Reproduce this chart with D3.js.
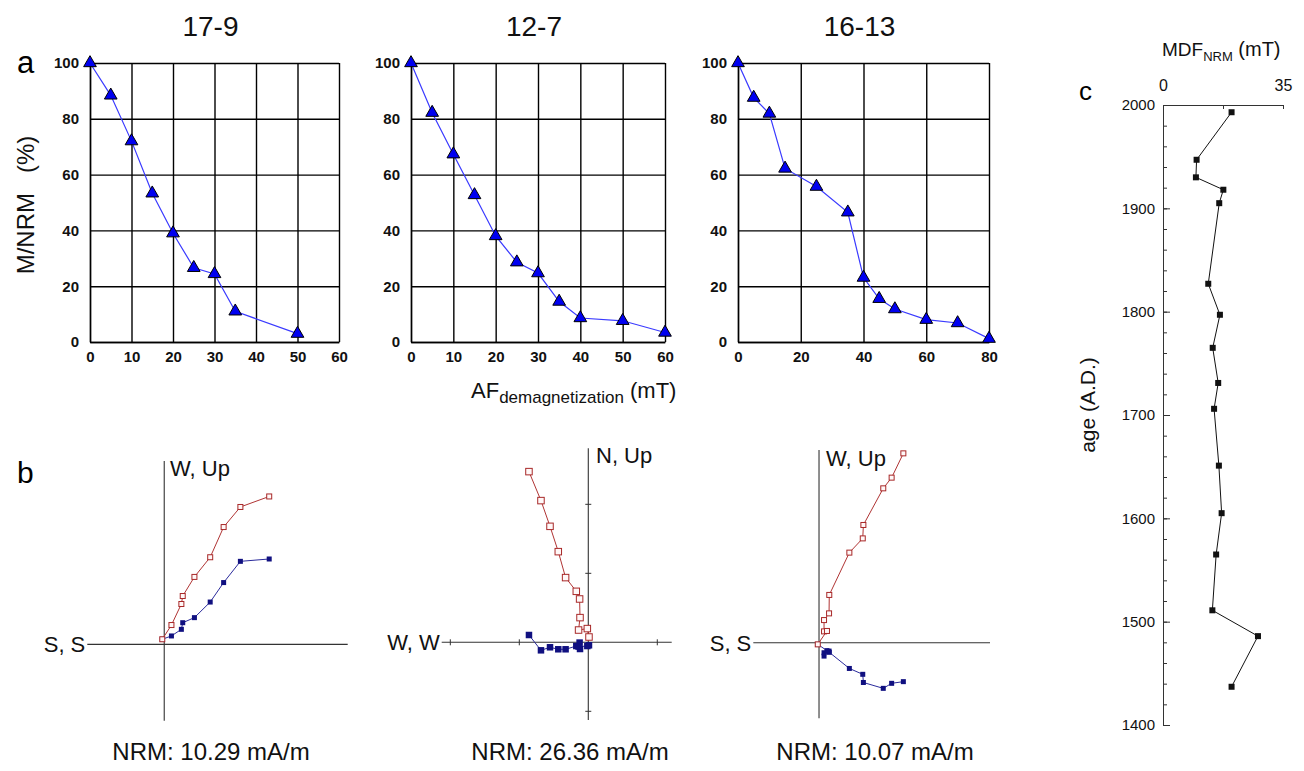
<!DOCTYPE html>
<html>
<head>
<meta charset="utf-8">
<script src="https://cdn.jsdelivr.net/npm/d3@7"></script>
<style>
  body { margin: 0; background: #fff; }
  svg { display: block; font-family: 'Liberation Sans', Arial, sans-serif; }
</style>
</head>
<body>
<svg id="chart" width="1304" height="771"></svg>
<script>
// ---- data ----
const sampleNames = ['17-9', '12-7', '16-13'];

// a: AF demagnetization step (mT) vs remaining M/NRM (%)
const af179 = [0, 5, 10, 15, 20, 25, 30, 35, 50];
const mnrm179 = [100, 88.4, 72, 53.3, 39, 26.6, 24.4, 11, 3];
const af127 = [0, 5, 10, 15, 20, 25, 30, 35, 40, 50, 60];
const mnrm127 = [100, 82.2, 67.3, 52.7, 38, 28.6, 24.7, 14.5, 8.6, 7.6, 3.4];
const af1613 = [0, 5, 10, 15, 25, 35, 40, 45, 50, 60, 70, 80];
const mnrm1613 = [100, 87.6, 81.9, 62.2, 55.7, 46.5, 23.1, 15.5, 11.8, 8, 6.8, 1.2];
const afTicks179 = [0, 10, 20, 30, 40, 50, 60];
const afTicks127 = [0, 10, 20, 30, 40, 50, 60];
const afTicks1613 = [0, 20, 40, 60, 80];
const mnrmTicks = [0, 20, 40, 60, 80, 100];

// b: orthogonal vector plots (mA/m), from NRM to last step
const zN179 = [5.39, 3.91, 3.05, 2.36, 1.55, 0.95, 0.88, 0.37, -0.10];
const zUp179 = [7.59, 7.05, 6.02, 4.47, 3.46, 2.48, 2.07, 0.99, 0.26];
const zW179 = [4.38, 4.26, 3.17, 2.17, 1.37, 1.11, 0.77, 0.43, 0.26];

const zE127 = [-8.60, -6.86, -5.55, -4.35, -3.29, -1.74, -1.26, -1.20, -1.41, -0.14, 0.10];
const zUp127 = [24.74, 20.54, 16.81, 13.14, 9.38, 7.39, 6.28, 3.58, 1.78, 1.99, 0.77];
const zN127 = [1.06, -1.16, -0.72, -1.01, -1.01, -0.54, -0.04, -0.97, -0.62, -0.54, -0.43];
const zTicks127 = [-20, -10, 10, 20];

const zN1613 = [4.03, 3.47, 3.07, 2.12, 2.09, 1.45, 0.49, 0.48, 0.24, 0.24, 0.38, -0.06];
const zUp1613 = [9.04, 7.88, 7.37, 5.62, 4.98, 4.30, 2.28, 1.40, 1.08, 0.54, 0.56, -0.08];
const zW1613 = [-1.86, -1.94, -2.18, -1.90, -1.51, -1.23, -0.46, -0.40, -0.64, -0.48, -0.38, -0.08];

const nrmLabels = ['NRM: 10.29 mA/m', 'NRM: 26.36 mA/m', 'NRM: 10.07 mA/m'];
const upLabels = ['W, Up', 'N, Up', 'W, Up'];
const leftLabels = ['S, S', 'W, W', 'S, S'];

// c: MDF of NRM (mT) vs age (A.D.)
const mdfValues = [20.0, 9.8, 9.6, 17.6, 16.4, 13.2, 16.6, 14.5, 16.1, 14.9, 16.3, 17.1, 15.5, 14.4, 27.7, 20.0];
const ageValues = [1993, 1947, 1930, 1918, 1905, 1827, 1797, 1765, 1731, 1706, 1651, 1605, 1565, 1511, 1486, 1437];
const ageTicks = [1400, 1500, 1600, 1700, 1800, 1900, 2000];
const mdfTicks = [0, 17.5, 35];

const svg = d3.select('#chart');

// ---- a: demagnetization curves ----
const demagPanels = [
  { af: af179, m: mnrm179, ticks: afTicks179, x0: 90, x1: 339 },
  { af: af127, m: mnrm127, ticks: afTicks127, x0: 411, x1: 665 },
  { af: af1613, m: mnrm1613, ticks: afTicks1613, x0: 738, x1: 989 }
];
const aTop = 63, aBottom = 342;

demagPanels.forEach((p, i) => {
  const x = d3.scaleLinear()
    .domain(d3.extent(p.ticks))
    .range([p.x0, p.x1]);
  const y = d3.scaleLinear()
    .domain([0, 100])
    .range([aBottom, aTop]);

  const g = svg.append('g');

  // Grid via axes.
  const gx = g.append('g')
    .attr('transform', 'translate(0,' + aBottom + ')')
    .call(d3.axisBottom(x).tickValues(p.ticks).tickSize(-(aBottom - aTop)).tickPadding(9).tickSizeOuter(0));
  const gy = g.append('g')
    .attr('transform', 'translate(' + p.x0 + ',0)')
    .call(d3.axisLeft(y).tickValues(mnrmTicks).tickSize(-(p.x1 - p.x0)).tickPadding(11).tickSizeOuter(0));

  [gx, gy].forEach(a => {
    a.select('.domain').attr('stroke', '#000').attr('stroke-width', 1.4);
    a.selectAll('.tick line').attr('stroke', '#000').attr('stroke-width', 1.4);
    a.selectAll('.tick text')
      .attr('fill', '#111')
      .style('font-size', '15px')
      .style('font-weight', 'bold')
      .style('font-family', "'Liberation Sans Narrow', 'Liberation Sans', Arial, sans-serif");
  });

  const pts = p.af.map((d, k) => ({ x: d, y: p.m[k] }));

  g.append('path')
    .datum(pts)
    .attr('fill', 'none')
    .attr('stroke', '#3a3aff')
    .attr('stroke-width', 1.2)
    .attr('d', d3.line().x(d => x(d.x)).y(d => y(d.y)));

  g.selectAll('.tri')
    .data(pts)
    .enter()
    .append('path')
    .attr('class', 'tri')
    .attr('transform', d => 'translate(' + x(d.x) + ',' + y(d.y) + ')')
    .attr('d', d3.symbol(d3.symbolTriangle, 70))
    .attr('fill', '#0000f0')
    .attr('stroke', '#000')
    .attr('stroke-width', 1);

  // Sample name above.
  svg.append('text')
    .attr('x', (p.x0 + p.x1) / 2 - 4)
    .attr('y', 36)
    .attr('text-anchor', 'middle')
    .style('font-size', '28px')
    .attr('fill', '#111')
    .text(sampleNames[i]);
});

svg.append('text')
  .attr('x', 17).attr('y', 73)
  .style('font-size', '31px')
  .text('a');

svg.append('text')
  .attr('transform', 'translate(34,205) rotate(-90)')
  .attr('text-anchor', 'middle')
  .style('font-size', '24px')
  .style('white-space', 'pre')
  .attr('fill', '#111')
  .text('M/NRM   (%)');

const afLabel = svg.append('text')
  .attr('x', 471).attr('y', 398)
  .attr('fill', '#111');
afLabel.append('tspan').style('font-size', '22px').text('AF');
afLabel.append('tspan').style('font-size', '17px').attr('dy', 5).text('demagnetization');
afLabel.append('tspan').style('font-size', '22px').attr('dy', -5).text(' (mT)');

// ---- b: vector end-point diagrams ----
const vectorPanels = [
  { h: zN179, up: zUp179, hor: zW179, xDom: [-3.95, 9.42], yDom: [-3.92, 9.41],
    xR: [87.3, 347.7], yR: [720.7, 461], ticks: null, size: 5, lx: 170, ly: 476, nx: 211 },
  { h: zE127, up: zUp127, hor: zN127, xDom: [-21.25, 12.09], yDom: [-11.26, 28.12],
    xR: [441.7, 671.7], yR: [720, 448.3], ticks: zTicks127, size: 6.5, lx: 596, ly: 463, nx: 570 },
  { h: zN1613, up: zUp1613, hor: zW1613, xDom: [-3.14, 8.17], yDom: [-3.61, 9.2],
    xR: [753.3, 990], yR: [718.3, 450], ticks: null, size: 5, lx: 826, ly: 466, nx: 875 }
];

vectorPanels.forEach((p, i) => {
  const x = d3.scaleLinear().domain(p.xDom).range(p.xR);
  const y = d3.scaleLinear().domain(p.yDom).range(p.yR);
  const g = svg.append('g');

  // Cross axes through the origin.
  g.append('line')
    .attr('x1', x(p.xDom[0])).attr('x2', x(p.xDom[1]))
    .attr('y1', y(0)).attr('y2', y(0))
    .attr('stroke', '#333').attr('stroke-width', 1.1);
  g.append('line')
    .attr('x1', x(0)).attr('x2', x(0))
    .attr('y1', y(p.yDom[0])).attr('y2', y(p.yDom[1]))
    .attr('stroke', '#333').attr('stroke-width', 1.1);

  if (p.ticks) {
    const xt = p.ticks.filter(t => t >= p.xDom[0] && t <= p.xDom[1]);
    const yt = p.ticks.filter(t => t >= p.yDom[0] && t <= p.yDom[1]);
    g.selectAll('.xt').data(xt).enter().append('line')
      .attr('x1', d => x(d)).attr('x2', d => x(d))
      .attr('y1', y(0) - 3).attr('y2', y(0) + 3)
      .attr('stroke', '#333');
    g.selectAll('.yt').data(yt).enter().append('line')
      .attr('x1', x(0) - 3).attr('x2', x(0) + 3)
      .attr('y1', d => y(d)).attr('y2', d => y(d))
      .attr('stroke', '#333');
  }

  const vert = p.h.map((d, k) => ({ x: d, y: p.up[k] }));
  const horiz = p.h.map((d, k) => ({ x: d, y: p.hor[k] }));
  const line = d3.line().x(d => x(d.x)).y(d => y(d.y));

  g.append('path').datum(horiz)
    .attr('fill', 'none').attr('stroke', '#2b2b9c').attr('stroke-width', 1)
    .attr('d', line);
  g.append('path').datum(vert)
    .attr('fill', 'none').attr('stroke', '#b03434').attr('stroke-width', 1)
    .attr('d', line);

  g.selectAll('.hs').data(horiz).enter().append('rect')
    .attr('x', d => x(d.x) - p.size / 2)
    .attr('y', d => y(d.y) - p.size / 2)
    .attr('width', p.size).attr('height', p.size)
    .attr('fill', '#101080');
  g.selectAll('.vs').data(vert).enter().append('rect')
    .attr('x', d => x(d.x) - p.size / 2)
    .attr('y', d => y(d.y) - p.size / 2)
    .attr('width', p.size).attr('height', p.size)
    .attr('fill', '#fff8f8')
    .attr('stroke', '#a82828')
    .attr('stroke-width', 1);

  g.append('text')
    .attr('x', p.lx).attr('y', p.ly)
    .style('font-size', '22px').attr('fill', '#111')
    .text(upLabels[i]);
  g.append('text')
    .attr('x', x(p.xDom[0]) - 2).attr('y', y(0) + 8)
    .attr('text-anchor', 'end')
    .style('font-size', '22px').attr('fill', '#111')
    .text(leftLabels[i]);
  g.append('text')
    .attr('x', p.nx).attr('y', 760)
    .attr('text-anchor', 'middle')
    .style('font-size', '24px').attr('fill', '#111')
    .text(nrmLabels[i]);
});

svg.append('text')
  .attr('x', 17).attr('y', 483)
  .style('font-size', '30px')
  .text('b');

// ---- c: MDF vs age ----
const cx = d3.scaleLinear().domain([0, 35]).range([1163, 1283]);
const cy = d3.scaleLinear().domain([1400, 2000]).range([725, 105]);
const cg = svg.append('g');

const topAxis = cg.append('g')
  .attr('transform', 'translate(0,' + cy(2000) + ')')
  .call(d3.axisTop(cx).tickValues(mdfTicks).tickSize(-4).tickSizeOuter(0).tickPadding(14)
    .tickFormat(d => (d === 0 || d === 35) ? d : ''));

const minorAxis = cg.append('g')
  .attr('transform', 'translate(' + cx(0) + ',0)')
  .call(d3.axisLeft(cy).tickValues(d3.range(1400, 2001, 20)).tickSize(-4).tickSizeOuter(0).tickFormat(''));

const leftAxis = cg.append('g')
  .attr('transform', 'translate(' + cx(0) + ',0)')
  .call(d3.axisLeft(cy).tickValues(ageTicks).tickSize(-7).tickSizeOuter(0).tickPadding(8)
    .tickFormat(d3.format('d')));

[topAxis, minorAxis, leftAxis].forEach(a => {
  a.select('.domain').attr('stroke', '#333');
  a.selectAll('.tick line').attr('stroke', '#333');
  a.selectAll('.tick text').attr('fill', '#111').style('font-size', '15px')
    .style('font-family', "'Liberation Sans', Arial, sans-serif");
});
topAxis.selectAll('.tick text').style('font-size', '16px');

const mdfPts = mdfValues.map((d, k) => ({ x: d, y: ageValues[k] }));
cg.append('path').datum(mdfPts)
  .attr('fill', 'none').attr('stroke', '#111').attr('stroke-width', 1)
  .attr('d', d3.line().x(d => cx(d.x)).y(d => cy(d.y)));
cg.selectAll('.cs').data(mdfPts).enter().append('rect')
  .attr('x', d => cx(d.x) - 3).attr('y', d => cy(d.y) - 3)
  .attr('width', 6).attr('height', 6)
  .attr('fill', '#111');

const mdfLabel = svg.append('text')
  .attr('x', 1162).attr('y', 56)
  .attr('fill', '#111');
mdfLabel.append('tspan').style('font-size', '19px').text('MDF');
mdfLabel.append('tspan').style('font-size', '13px').attr('dy', 5).text('NRM');
mdfLabel.append('tspan').style('font-size', '20px').attr('dy', -5).text(' (mT)');

svg.append('text')
  .attr('transform', 'translate(1095,405) rotate(-90)')
  .attr('text-anchor', 'middle')
  .style('font-size', '21px').attr('fill', '#111')
  .text('age (A.D.)');

svg.append('text')
  .attr('x', 1079).attr('y', 100)
  .style('font-size', '26px')
  .text('c');
</script>
</body>
</html>
